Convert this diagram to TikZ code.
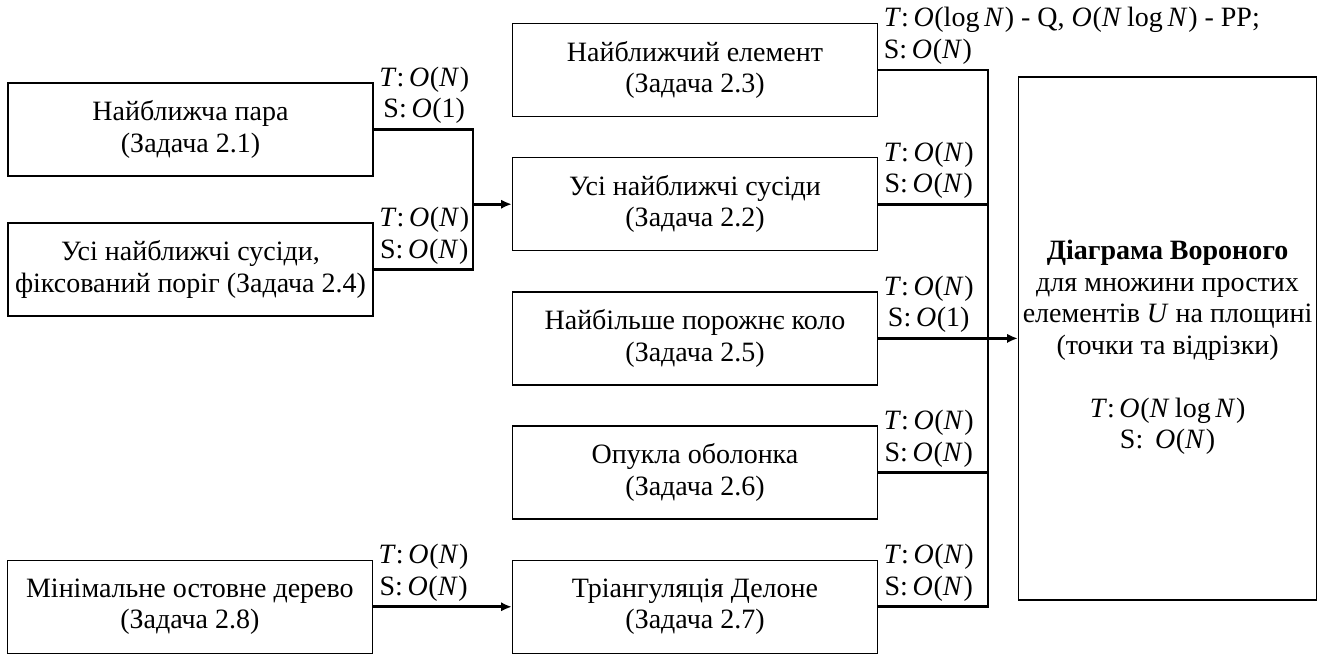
\documentclass[tikz,border=0pt]{standalone}
\usepackage{fontspec}
\setmainfont{Liberation Serif}
\usetikzlibrary{arrows.meta,positioning,calc}
\newcommand{\zfont}{\fontsize{21}{23.6}\selectfont}
\newcommand{\zT}{\textit{T}:\,}
\newcommand{\zS}{S:\,}
\newcommand{\zO}[1]{\textit{O}\kern0.5pt(#1)}
\newcommand{\zN}{\textit{N}\kern0.5pt}
\tikzset{
  zadacha/.style={rectangle,draw=black,line width=1.1pt,align=center,
    minimum width=273.75pt,minimum height=69.75pt,inner sep=4pt,font=\zfont},
  voronyi/.style={zadacha,inner xsep=0pt,minimum width=223.5pt,minimum height=392.25pt},
  zlinia/.style={line width=2.2pt},
  zstrilka/.style={zlinia,-{Latex[length=8pt,width=7pt]}},
  zmitka/.style={anchor=south west,inner sep=4pt,align=center,font=\zfont},
}
\begin{document}
\begin{tikzpicture}[x=0.75pt,y=-0.75pt,node distance=29.8pt]
  \useasboundingbox (0,0) rectangle (1319,655);
  % середній стовпчик
  \node[zadacha] (m1) at (695,70) {Найближчий елемент\\(Задача 2.3)};
  \node[zadacha,below=of m1] (m2) {Усі найближчі сусіди\\(Задача 2.2)};
  \node[zadacha,below=of m2] (m3) {Найбільше порожнє коло\\(Задача 2.5)};
  \node[zadacha,below=of m3] (m4) {Опукла оболонка\\(Задача 2.6)};
  \node[zadacha,below=of m4] (m5) {Тріангуляція Делоне\\(Задача 2.7)};
  % лівий стовпчик
  \node[zadacha] (l1) at (190.5,129.5) {Найближча пара\\(Задача 2.1)};
  \node[zadacha,below=34.2pt of l1] (l2) {Усі найближчі сусіди,\\фіксований поріг (Задача 2.4)};
  \node[zadacha,left=104pt of m5] (l3) {Мінімальне остовне дерево\\(Задача 2.8)};
  % діаграма Вороного
  \node[voronyi,right=104.7pt of m3] (vor) {\rule{0pt}{28pt}\textbf{Діаграма Вороного}\\для множини простих\\елементів \textit{U} на площині\\(точки та відрізки)\\[23.6pt]
    \zT\zO{\zN\,log\,\zN}\\\zS\ \zO{\zN}};
  % з'єднання
  \coordinate (join) at (473,0);
  \coordinate (trunk) at (988,0);
  \draw[zlinia] (l1.east) -- (l1.east -| join) -- (l2.east -| join) -- (l2.east);
  \draw[zstrilka] (join |- m2.west) -- (m2.west);
  \draw[zstrilka] (l3) -- (m5);
  \draw[zlinia] (m1.east) -- (m1.east -| trunk) -- (m5.east -| trunk) -- (m5.east);
  \foreach \m in {m2,m3,m4}
    \draw[zlinia] (\m.east) -- (\m.east -| trunk);
  \draw[zstrilka] (m3.east -| trunk) -- (vor.west);
  % оцінки складності
  \node[zmitka] (s1) at (l1.east) {\zT\zO{\zN}\\\zS\zO{1}};
  \node[zmitka] (s2) at (l2.east) {\zT\zO{\zN}\\\zS\zO{\zN}};
  \node[zmitka] (s8) at (l3.east) {\zT\zO{\zN}\\\zS\zO{\zN}};
  \node[zmitka,align=left] (s3) at (m1.east) {\zT\zO{log\,\zN} - Q, \zO{\zN\,log\,\zN} - PP;\\\zS\zO{\zN}};
  \node[zmitka] (s4) at (m2.east) {\zT\zO{\zN}\\\zS\zO{\zN}};
  \node[zmitka] (s5) at (m3.east) {\zT\zO{\zN}\\\zS\zO{1}};
  \node[zmitka] (s6) at (m4.east) {\zT\zO{\zN}\\\zS\zO{\zN}};
  \node[zmitka] (s7) at (m5.east) {\zT\zO{\zN}\\\zS\zO{\zN}};
\end{tikzpicture}
\end{document}
